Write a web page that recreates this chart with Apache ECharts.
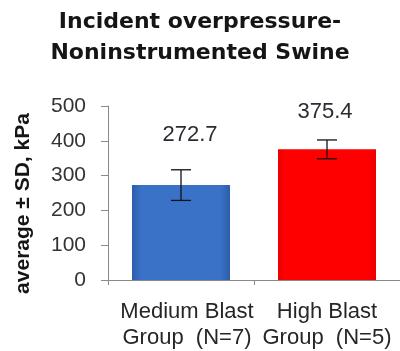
<!DOCTYPE html>
<html>
<head>
<meta charset="utf-8">
<script src="https://cdn.jsdelivr.net/npm/echarts@6/dist/echarts.min.js"></script>
<style>
  html, body { margin: 0; padding: 0; background: #ffffff; }
  #chart { width: 400px; height: 351px; }
</style>
</head>
<body>
<div id="chart"></div>
<script>
// Incident overpressure per blast group (mean ± SD, kPa)
const categories = ['Medium Blast\nGroup  (N=7)', 'High Blast\nGroup  (N=5)'];
const meanValues = [272.7, 375.4];
const sdValues = [44, 27];
const yTicks = [0, 100, 200, 300, 400, 500];

const barColors = [
  { type: 'linear', x: 0, y: 0, x2: 1, y2: 0, colorStops: [
    { offset: 0, color: '#2d5cab' }, { offset: 0.1, color: '#3a72c8' },
    { offset: 0.9, color: '#3a72c8' }, { offset: 1, color: '#2d5cab' } ] },
  { type: 'linear', x: 0, y: 0, x2: 1, y2: 0, colorStops: [
    { offset: 0, color: '#ec0000' }, { offset: 0.08, color: '#ff0000' },
    { offset: 0.92, color: '#ff0000' }, { offset: 1, color: '#ec0000' } ] }
];
// value label placement above each bar
const labelDistance = [39, 26];
const labelShift = [9, -2];

const chart = echarts.init(document.getElementById('chart'), null, { renderer: 'canvas' });

chart.setOption({
  backgroundColor: '#ffffff',
  animation: false,
  title: {
    text: 'Incident overpressure-\nNoninstrumented Swine',
    left: 'center',
    top: 7,
    padding: [0, 0, 0, 10],
    textStyle: {
      fontFamily: 'DejaVu Sans',
      fontWeight: 'bold',
      fontSize: 22,
      lineHeight: 31,
      color: '#151515'
    }
  },
  grid: { left: 108, right: 0, top: 106, bottom: 69, containLabel: false },
  xAxis: {
    type: 'category',
    data: categories.map((c, i) => i === 0
      ? { value: c, textStyle: { padding: [0, 0, 0, 12] } }
      : c),
    axisLine: { lineStyle: { color: '#8a8a8a', width: 1 } },
    axisTick: { show: true, length: 5, lineStyle: { color: '#8a8a8a' } },
    axisLabel: {
      interval: 0,
      hideOverlap: false,
      margin: 19,
      fontFamily: 'Liberation Sans',
      fontSize: 22,
      lineHeight: 26,
      color: '#262626'
    }
  },
  yAxis: {
    type: 'value',
    min: yTicks[0],
    max: yTicks[yTicks.length - 1],
    interval: 100,
    name: 'average ± SD, kPa',
    nameLocation: 'middle',
    nameRotate: 90,
    nameGap: 74,
    nameTextStyle: {
      fontFamily: 'Liberation Sans',
      fontWeight: 'bold',
      fontSize: 21,
      color: '#151515',
      padding: [0, 21, 0, 0]
    },
    splitLine: { show: false },
    axisLine: { show: true, lineStyle: { color: '#8a8a8a', width: 1 } },
    axisTick: { show: true, length: 7, lineStyle: { color: '#8a8a8a' } },
    axisLabel: {
      margin: 22,
      fontFamily: 'Liberation Sans',
      fontSize: 21,
      color: '#333333'
    }
  },
  series: [
    {
      type: 'bar',
      barWidth: 98,
      data: meanValues.map((v, i) => ({
        value: v,
        itemStyle: { color: barColors[i] },
        label: { distance: labelDistance[i], offset: [labelShift[i], 0] }
      })),
      label: {
        show: true,
        position: 'top',
        fontFamily: 'Liberation Sans',
        fontSize: 22,
        color: '#2b2b33',
        formatter: p => p.value.toFixed(1)
      },
      z: 2
    },
    {
      type: 'custom',
      z: 5,
      data: meanValues.map((v, i) => [i, v - sdValues[i], v + sdValues[i]]),
      renderItem: (params, api) => {
        const lo = api.coord([api.value(0), api.value(1)]);
        const hi = api.coord([api.value(0), api.value(2)]);
        const half = 10;
        const style = { stroke: '#111111', lineWidth: 1.3 };
        return {
          type: 'group',
          children: [
            { type: 'line', shape: { x1: lo[0], y1: lo[1], x2: hi[0], y2: hi[1] }, style },
            { type: 'line', shape: { x1: hi[0] - half, y1: hi[1], x2: hi[0] + half, y2: hi[1] }, style },
            { type: 'line', shape: { x1: lo[0] - half, y1: lo[1], x2: lo[0] + half, y2: lo[1] }, style }
          ]
        };
      }
    }
  ]
});
</script>
</body>
</html>
